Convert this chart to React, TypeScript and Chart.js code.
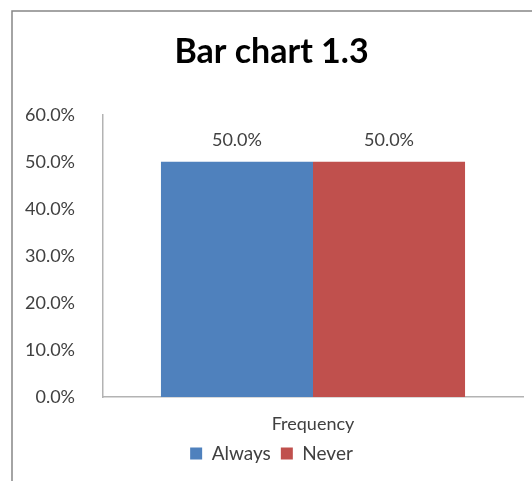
import React, { useEffect, useRef } from "react";
import { Chart, registerables } from "chart.js";

Chart.register(...registerables);

const categories = ["Frequency"];
const seriesNames = ["Always", "Never"];
const alwaysValues = [0.5];
const neverValues = [0.5];
const yTicks = [0, 0.1, 0.2, 0.3, 0.4, 0.5, 0.6];
const titleText = "Bar chart 1.3";

const FONT = "Lato, 'Open Sans', sans-serif";
const TEXT = "#404040";

const fmt = (v: number) => (v * 100).toFixed(1) + "%";

const framePlugin = {
  id: "frame",
  beforeDraw(chart: any) {
    const ctx = chart.ctx;
    ctx.save();
    ctx.fillStyle = "#ffffff";
    ctx.fillRect(0, 0, chart.width, chart.height);
    ctx.strokeStyle = "#868686";
    ctx.lineWidth = 1.5;
    ctx.beginPath();
    ctx.moveTo(12, chart.height + 5);
    ctx.lineTo(12, 11);
    ctx.lineTo(chart.width + 5, 11);
    ctx.stroke();
    ctx.restore();
  },
};

const labelPlugin = {
  id: "barLabels",
  afterDatasetsDraw(chart: any) {
    const ctx = chart.ctx;
    ctx.save();
    ctx.font = `18px ${FONT}`;
    ctx.fillStyle = TEXT;
    ctx.textAlign = "center";
    ctx.textBaseline = "middle";
    chart.data.datasets.forEach((ds: any, i: number) => {
      const meta = chart.getDatasetMeta(i);
      meta.data.forEach((el: any, j: number) => {
        ctx.fillText(fmt(ds.data[j]), el.x, el.y - 22);
      });
    });
    ctx.restore();
  },
};

export default function App() {
  const ref = useRef<HTMLCanvasElement>(null);
  useEffect(() => {
    if (!ref.current) return;
    const chart = new Chart(ref.current, {
      type: "bar",
      data: {
        labels: categories,
        datasets: [
          {
            label: seriesNames[0],
            data: alwaysValues,
            backgroundColor: "#4F81BD",
            categoryPercentage: 0.724,
            barPercentage: 1,
          },
          {
            label: seriesNames[1],
            data: neverValues,
            backgroundColor: "#C0504D",
            categoryPercentage: 0.724,
            barPercentage: 1,
          },
        ],
      },
      options: {
        animation: false,
        responsive: false,
        devicePixelRatio: 1,
        layout: { padding: { top: 0, left: 20, right: 9, bottom: 8 } },
        scales: {
          x: {
            grid: { display: false },
            border: { display: true, color: "#b3b3b3", width: 1.5 },
            ticks: { color: TEXT, font: { family: FONT, size: 18 }, padding: 8 },
            afterFit: (s: any) => {
              s.height = 37;
            },
          },
          y: {
            min: 0,
            max: 0.6,
            grid: { display: false },
            border: { display: true, color: "#b3b3b3", width: 1.5 },
            afterBuildTicks: (s: any) => {
              s.ticks = yTicks.map((v) => ({ value: v }));
            },
            ticks: {
              color: TEXT,
              font: { family: FONT, size: 18 },
              padding: 20,
              callback: (v: any) => fmt(Number(v)),
            },
            afterFit: (s: any) => {
              s.width = 83;
            },
          },
        },
        plugins: {
          title: {
            display: true,
            text: titleText,
            color: "#000000",
            font: { family: FONT, size: 34, weight: "bold" },
            padding: { top: 32, bottom: 42 },
          },
          legend: {
            position: "bottom",
            labels: {
              color: TEXT,
              font: { family: FONT, size: 19 },
              boxWidth: 12,
              boxHeight: 12,
              padding: 10,
            },
          },
          tooltip: { enabled: false },
        },
      },
      plugins: [framePlugin, labelPlugin],
    });
    return () => chart.destroy();
  }, []);
  return (
    <div style={{ position: "absolute", left: 0, top: 0, width: 532, height: 481 }}>
      <canvas ref={ref} width={532} height={481} style={{ display: "block" }} />
    </div>
  );
}
